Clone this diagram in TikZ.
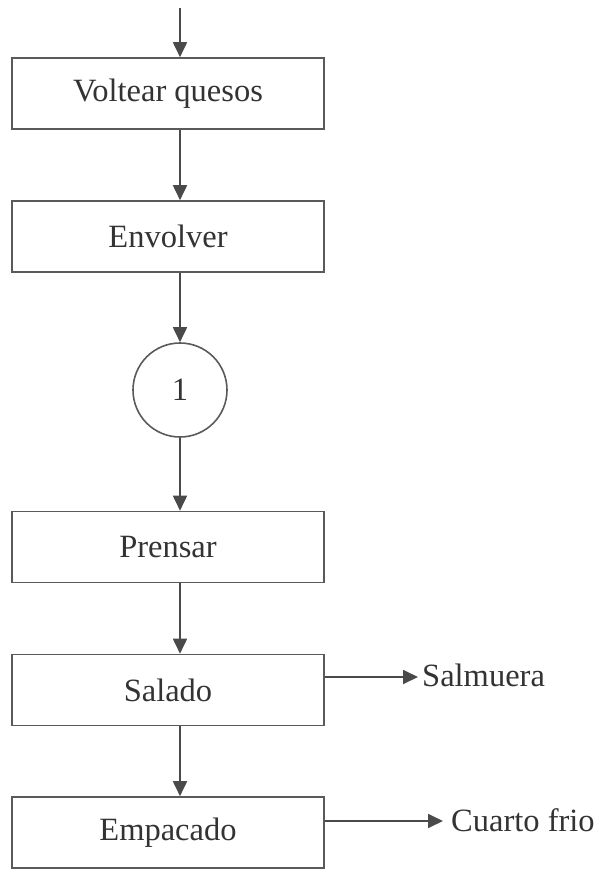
\documentclass[tikz,border=0pt]{standalone}
\usepackage{fontspec}
\setmainfont{Liberation Serif}
\usetikzlibrary{arrows.meta}
\definecolor{linec}{HTML}{5A5A5A}
\definecolor{arrc}{HTML}{4A4A4A}
\tikzset{
  procbox/.style={draw=linec, line width=1.6pt, rectangle, minimum width=312pt, minimum height=71pt, inner sep=0pt, font=\fontsize{32.5}{38}\selectfont, text=black!80},
  connbox/.style={draw=linec, line width=1.6pt, circle, minimum size=94pt, inner sep=0pt, font=\fontsize{32.5}{38}\selectfont, text=black!80},
  lbl/.style={inner sep=0pt, font=\fontsize{32.5}{38}\selectfont, text=black!80},
  arr/.style={draw=arrc, line width=1.8pt, -{Triangle[length=15pt, width=14pt]}}
}
\begin{document}
\begin{tikzpicture}[x=1pt,y=-1pt]
\useasboundingbox (0,0) rectangle (597,870);
\coordinate (ax) at (180,0);
\coordinate (top) at (180,8);
\node[procbox] (b1) at (168,93.5) {Voltear quesos};
\node[procbox] (b2) at (168,236.5) {Envolver};
\node[connbox] (c1) at (180,390) {1};
\node[procbox] (b3) at (168,547) {Prensar};
\node[procbox] (b4) at (168,690) {Salado};
\node[procbox] (b5) at (168,832.5) {Empacado};
\node[lbl, anchor=base west] (salm) at (422,686) {Salmuera};
\node[lbl, anchor=base west] (cuar) at (451,831) {Cuarto frio};
\coordinate (s1) at (418,677);
\coordinate (s2) at (443,821);
\draw[arr] (top) -- (b1.north -| ax);
\draw[arr] (b1.south -| ax) -- (b2.north -| ax);
\draw[arr] (b2.south -| ax) -- (c1.north);
\draw[arr] (c1.south) -- (b3.north -| ax);
\draw[arr] (b3.south -| ax) -- (b4.north -| ax);
\draw[arr] (b4.south -| ax) -- (b5.north -| ax);
\draw[arr] (b4.east |- s1) -- (s1);
\draw[arr] (b5.east |- s2) -- (s2);
\end{tikzpicture}
\end{document}
